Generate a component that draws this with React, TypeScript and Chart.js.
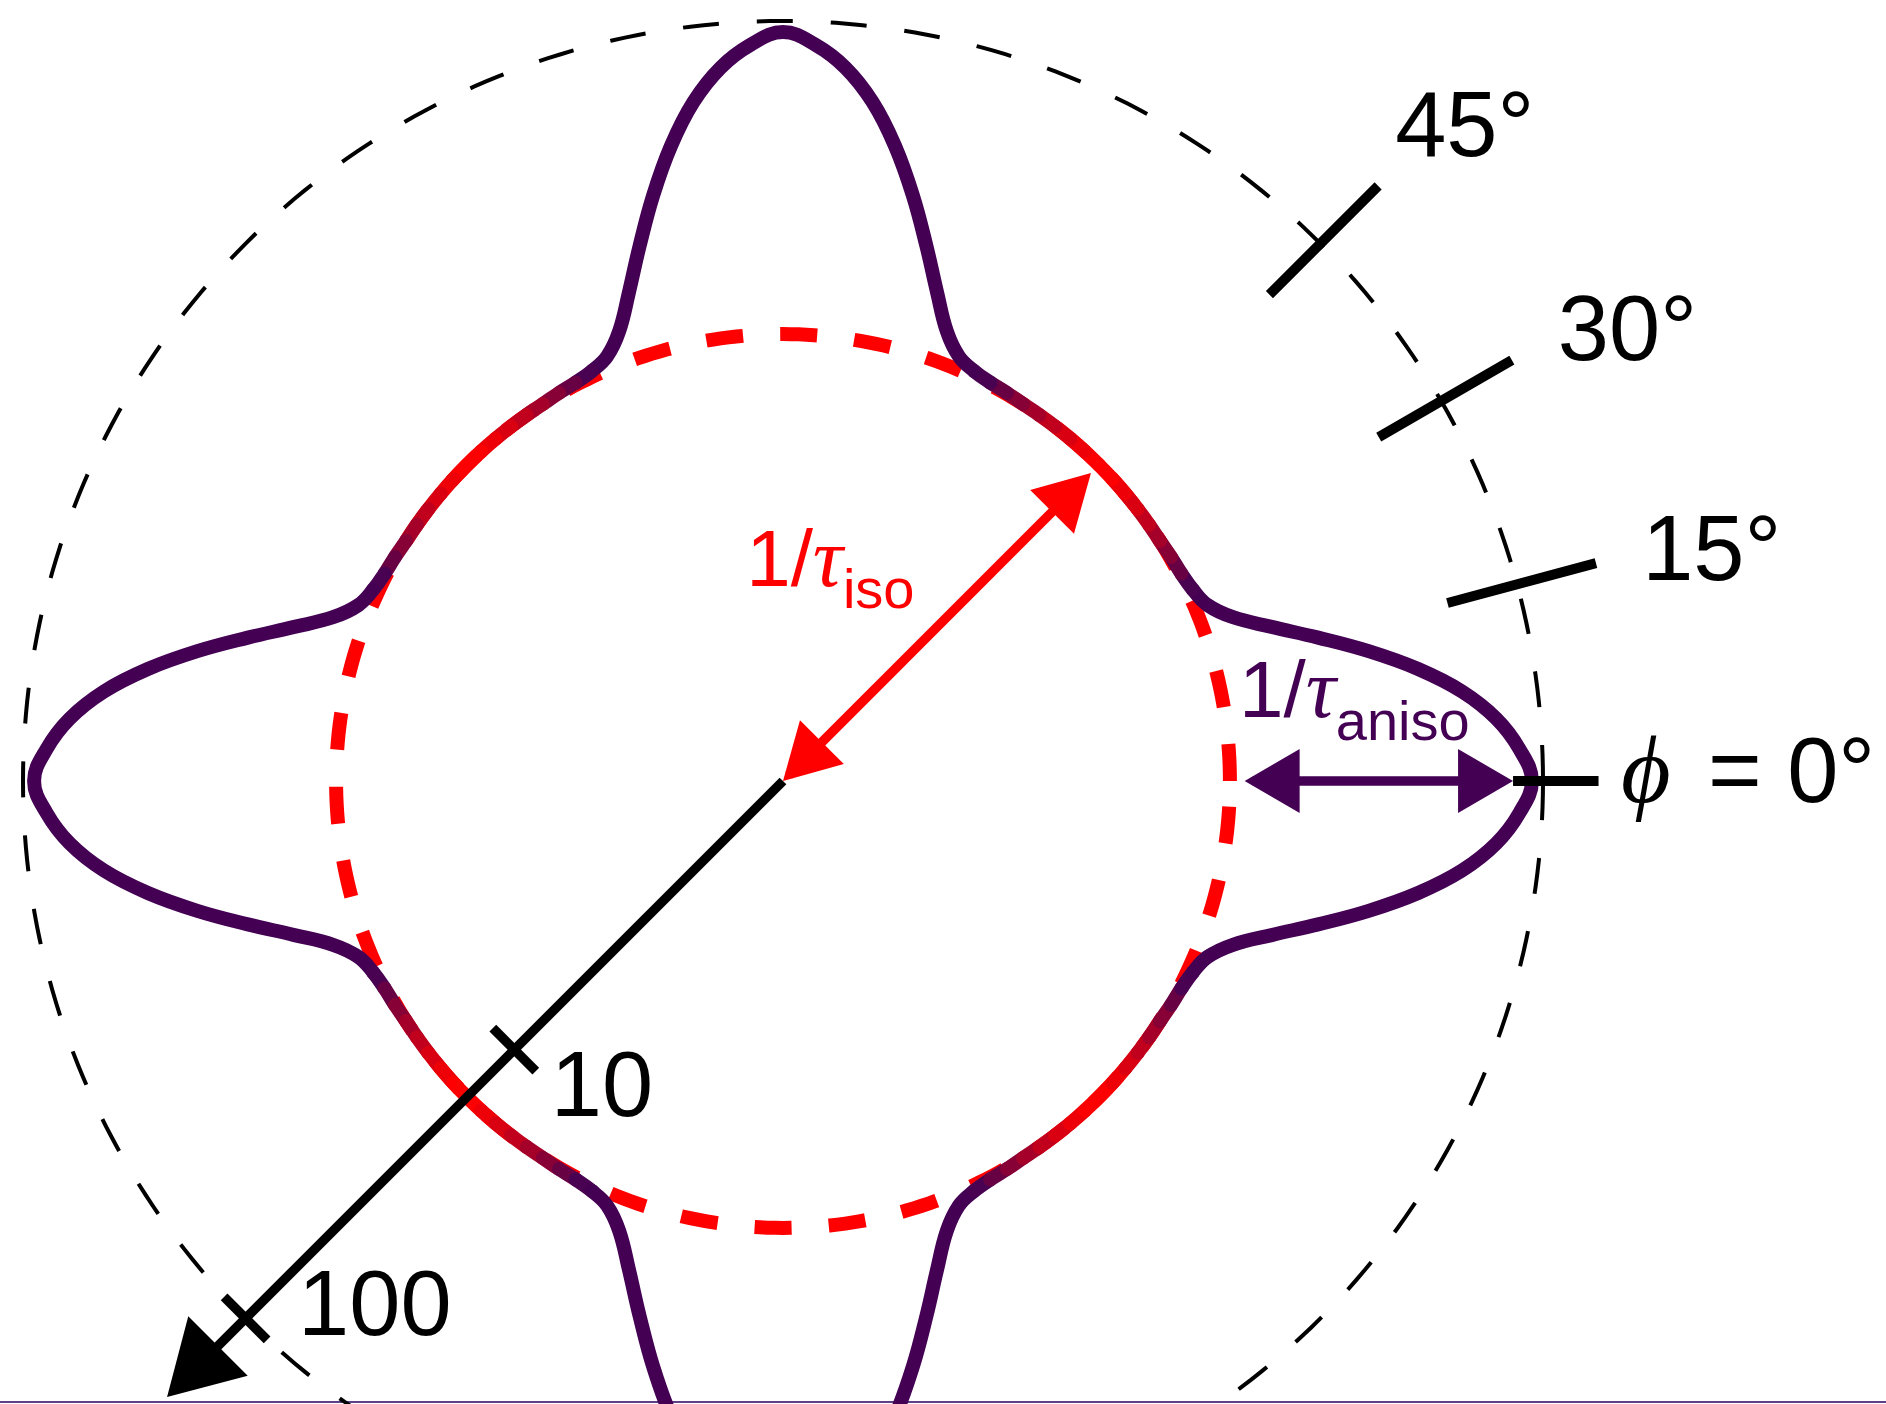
import { useEffect, useRef } from "react";
import { Chart, registerables } from "chart.js";

Chart.register(...registerables);

// ---------------- canvas / geometry (style) ----------------
const CANVAS_W = 1886;
const CANVAS_H = 1404;
const CENTER_PX = { x: 783, y: 781 };
const PX_PER_DECADE = 380;

// ---------------- data ----------------
// One octant of the scattering-rate curve (φ in degrees → rate, log radial axis).
// The figure is mirror-symmetric about 0°, 45°, 90°, ... so the other octants reuse these readings.
const OCTANT_ANGLES = [0, 2.5, 5, 7.5, 10, 12.5, 15, 17.5, 20, 22.5, 25, 27.5, 30, 32.5, 35, 37.5, 40, 42.5, 45];
const OCTANT_RATES = [93.5, 87.0, 76.6, 63.5, 49.8, 37.9, 28.7, 22.3, 18.2, 16.2, 15.5, 15.2, 15.1, 15.0, 15.0, 15.0, 15.0, 15.0, 15.0];

const ISO_RATE = 15; // 1/τ_iso (red dashed ring)
const OUTER_RING_RATE = 100; // black dashed ring

const RADIAL_AXIS_ANGLE = 225;
const RADIAL_AXIS_END = 196;
const RADIAL_TICK_VALUES = [10, 100];
const RADIAL_TICK_LABELS = ["10", "100"];

const PHI_TICK_ANGLES = [15, 30, 45];
const PHI_TICK_LABELS = ["15°", "30°", "45°"];
const PHI_TICK_SPAN = [64.6, 164];
const PHI0_TICK_SPAN = [83.4, 140];
const PHI0_LABEL = ["ϕ", "= 0°"];

const ISO_ARROW = [1.0, 14.0]; // rates, along 45°
const ISO_ARROW_ANGLE = 45;
const ANISO_ARROW = [16.4, 83.4]; // rates, along 0°

// ---------------- styles ----------------
const PURPLE = "#440154";
const RED = "#ff0000";
const SANS = "'Liberation Sans', Arial, Helvetica, sans-serif";
const SERIF_IT = "'Liberation Serif', 'DejaVu Serif', serif";
const CURVE_WIDTH = 14;

// label anchors in chart units (decades), left / baseline
const LABEL_POS: Record<string, [number, number]> = {
  r10: [-0.611, -0.882],
  r100: [-1.276, -1.458],
  p15: [2.261, 0.529],
  p30: [2.039, 1.108],
  p45: [1.611, 1.645],
  p0: [2.205, -0.055],
  iso: [-0.097, 0.513],
  aniso: [1.2, 0.168],
};

const X_MIN = -CENTER_PX.x / PX_PER_DECADE;
const X_MAX = (CANVAS_W - CENTER_PX.x) / PX_PER_DECADE;
const Y_MAX = CENTER_PX.y / PX_PER_DECADE;
const Y_MIN = -(CANVAS_H - CENTER_PX.y) / PX_PER_DECADE;

function polar(rate: number, deg: number) {
  const lr = Math.log10(rate);
  const a = (deg * Math.PI) / 180;
  return { x: lr * Math.cos(a), y: lr * Math.sin(a) };
}

// full curve assembled from the octant readings by the figure's mirror symmetry
function curvePoints() {
  const quarter: { a: number; r: number }[] = [];
  for (let i = 0; i < OCTANT_ANGLES.length; i++) quarter.push({ a: OCTANT_ANGLES[i], r: OCTANT_RATES[i] });
  for (let i = OCTANT_ANGLES.length - 2; i >= 1; i--) quarter.push({ a: 90 - OCTANT_ANGLES[i], r: OCTANT_RATES[i] });
  const full: { a: number; r: number }[] = [];
  for (let q = 0; q < 4; q++) for (const p of quarter) full.push({ a: p.a + 90 * q, r: p.r });
  const start = full.findIndex((p) => p.a === 45);
  return full.slice(start).concat(full.slice(0, start + 1));
}
const CURVE = curvePoints();

function ring(rate: number) {
  const pts = [];
  for (let d = 0; d <= 360; d += 1) pts.push(polar(rate, d));
  return pts;
}

function mixColor(t: number) {
  const r = Math.round(255 + (68 - 255) * t);
  const g = Math.round(1 * t);
  const b = Math.round(84 * t);
  return `rgb(${r},${g},${b})`;
}
// colour of the curve: red on the diagonals (where it meets the iso ring), purple on the lobes
function curveColorAt(deg: number) {
  const c = Math.abs(Math.cos((2 * deg * Math.PI) / 180));
  const t = Math.min(1, Math.pow(c / 0.62, 1.5));
  return mixColor(t);
}

function lineDs(data: { x: number; y: number }[], color: any, width: number, order: number, extra: any = {}) {
  return {
    data,
    showLine: true,
    borderColor: color,
    backgroundColor: color,
    borderWidth: width,
    pointRadius: 0,
    pointHoverRadius: 0,
    fill: false,
    tension: 0,
    order,
    ...extra,
  };
}

function buildDatasets() {
  const ds: any[] = [];
  // bottom frame line
  ds.push(
    lineDs(
      [
        { x: X_MIN, y: Y_MIN + 2 / PX_PER_DECADE },
        { x: X_MAX, y: Y_MIN + 2 / PX_PER_DECADE },
      ],
      "#5f3f86",
      2,
      100
    )
  );
  ds.push(lineDs(ring(OUTER_RING_RATE), "#000000", 4, 90, { borderDash: [36, 38] }));
  ds.push(lineDs(ring(ISO_RATE), RED, 14, 80, { borderDash: [37, 37.2] }));
  ds.push(
    lineDs(
      CURVE.map((p) => polar(p.r, p.a)),
      PURPLE,
      CURVE_WIDTH,
      70,
      {
        tension: 0.4,
        capBezierPoints: false,
        borderJoinStyle: "round",
        borderCapStyle: "round",
        segment: {
          borderWidth: CURVE_WIDTH,
          borderCapStyle: "round",
          borderJoinStyle: "round",
          borderColor: (ctx: any) => {
            const a0 = CURVE[ctx.p0DataIndex].a;
            const a1 = CURVE[ctx.p1DataIndex].a;
            return curveColorAt((a0 + a1) / 2);
          },
        },
      }
    )
  );
  // φ ticks on outer ring
  PHI_TICK_ANGLES.forEach((a) => {
    ds.push(lineDs([polar(PHI_TICK_SPAN[0], a), polar(PHI_TICK_SPAN[1], a)], "#000000", 10, 60));
  });
  ds.push(lineDs([polar(PHI0_TICK_SPAN[0], 0), polar(PHI0_TICK_SPAN[1], 0)], "#000000", 10, 60));
  // radial (log) axis
  ds.push(lineDs([polar(1, RADIAL_AXIS_ANGLE), polar(RADIAL_AXIS_END * 0.93, RADIAL_AXIS_ANGLE)], "#000000", 9.5, 50));
  RADIAL_TICK_VALUES.forEach((v) => {
    const c = polar(v, RADIAL_AXIS_ANGLE);
    const pa = ((RADIAL_AXIS_ANGLE - 90) * Math.PI) / 180;
    const h = 0.08;
    ds.push(
      lineDs(
        [
          { x: c.x + h * Math.cos(pa), y: c.y + h * Math.sin(pa) },
          { x: c.x - h * Math.cos(pa), y: c.y - h * Math.sin(pa) },
        ],
        "#000000",
        9.5,
        50
      )
    );
  });
  // arrow shafts
  ds.push(lineDs([polar(ISO_ARROW[0] * 1.05, ISO_ARROW_ANGLE), polar(ISO_ARROW[1] * 0.92, ISO_ARROW_ANGLE)], RED, 9.5, 40));
  ds.push(lineDs([polar(ANISO_ARROW[0] * 1.05, 0), polar(ANISO_ARROW[1] * 0.95, 0)], PURPLE, 9.5, 40));
  return ds;
}

const annotations = {
  id: "annotations",
  afterDatasetsDraw(chart: any) {
    const ctx: CanvasRenderingContext2D = chart.ctx;
    const xs = chart.scales.x;
    const ys = chart.scales.y;
    const P = (p: { x: number; y: number }) => ({ x: xs.getPixelForValue(p.x), y: ys.getPixelForValue(p.y) });
    const PL = (k: string) => P({ x: LABEL_POS[k][0], y: LABEL_POS[k][1] });
    ctx.save();

    const head = (tip: any, from: any, len: number, hw: number, color: string) => {
      const dx = tip.x - from.x;
      const dy = tip.y - from.y;
      const d = Math.hypot(dx, dy);
      const ux = dx / d;
      const uy = dy / d;
      const bx = tip.x - ux * len;
      const by = tip.y - uy * len;
      ctx.beginPath();
      ctx.moveTo(tip.x, tip.y);
      ctx.lineTo(bx - uy * hw, by + ux * hw);
      ctx.lineTo(bx + uy * hw, by - ux * hw);
      ctx.closePath();
      ctx.fillStyle = color;
      ctx.fill();
    };

    head(P(polar(RADIAL_AXIS_END, RADIAL_AXIS_ANGLE)), P(polar(1, RADIAL_AXIS_ANGLE)), 72, 42, "#000000");
    const i0 = P(polar(ISO_ARROW[0], ISO_ARROW_ANGLE));
    const i1 = P(polar(ISO_ARROW[1], ISO_ARROW_ANGLE));
    head(i1, i0, 55, 31, RED);
    head(i0, i1, 55, 31, RED);
    const a0 = P(polar(ANISO_ARROW[0], 0));
    const a1 = P(polar(ANISO_ARROW[1], 0));
    head(a1, a0, 55, 32, PURPLE);
    head(a0, a1, 55, 32, PURPLE);

    ctx.textBaseline = "alphabetic";
    ctx.textAlign = "left";
    const runs = (pos: { x: number; y: number }, parts: { t: string; f: string; c: string; dy?: number; x?: number }[]) => {
      let x = pos.x;
      for (const p of parts) {
        if (p.x !== undefined) x = pos.x + p.x;
        ctx.font = p.f;
        ctx.fillStyle = p.c;
        ctx.fillText(p.t, x, pos.y + (p.dy || 0));
        x += ctx.measureText(p.t).width;
      }
    };
    const big = `92px ${SANS}`;
    runs(PL("r10"), [{ t: RADIAL_TICK_LABELS[0], f: big, c: "#000" }]);
    runs(PL("r100"), [{ t: RADIAL_TICK_LABELS[1], f: big, c: "#000" }]);
    runs(PL("p15"), [{ t: PHI_TICK_LABELS[0], f: big, c: "#000" }]);
    runs(PL("p30"), [{ t: PHI_TICK_LABELS[1], f: big, c: "#000" }]);
    runs(PL("p45"), [{ t: PHI_TICK_LABELS[2], f: big, c: "#000" }]);
    runs(PL("p0"), [
      { t: PHI0_LABEL[0], f: `italic 96px ${SERIF_IT}`, c: "#000" },
      { t: PHI0_LABEL[1], f: big, c: "#000", x: 87 },
    ]);
    runs(PL("iso"), [
      { t: "1/", f: `80px ${SANS}`, c: RED },
      { t: "τ", f: `italic 84px ${SERIF_IT}`, c: RED },
      { t: "iso", f: `56px ${SANS}`, c: RED, dy: 22 },
    ]);
    runs(PL("aniso"), [
      { t: "1/", f: `80px ${SANS}`, c: PURPLE },
      { t: "τ", f: `italic 84px ${SERIF_IT}`, c: PURPLE },
      { t: "aniso", f: `56px ${SANS}`, c: PURPLE, dy: 23 },
    ]);
    ctx.restore();
  },
};

export default function App() {
  const ref = useRef<HTMLCanvasElement>(null);
  useEffect(() => {
    if (!ref.current) return;
    const chart = new Chart(ref.current, {
      type: "scatter",
      data: { datasets: buildDatasets() },
      options: {
        animation: false,
        responsive: false,
        maintainAspectRatio: false,
        devicePixelRatio: 1,
        layout: { padding: 0 },
        events: [],
        plugins: { legend: { display: false }, tooltip: { enabled: false } },
        scales: {
          x: { type: "linear", min: X_MIN, max: X_MAX, display: false },
          y: { type: "linear", min: Y_MIN, max: Y_MAX, display: false },
        },
      },
      plugins: [annotations],
    } as any);
    return () => chart.destroy();
  }, []);
  return (
    <div style={{ position: "absolute", left: 0, top: 0, width: CANVAS_W, height: CANVAS_H, background: "#fff" }}>
      <canvas ref={ref} width={CANVAS_W} height={CANVAS_H} style={{ display: "block", width: CANVAS_W, height: CANVAS_H }} />
    </div>
  );
}
